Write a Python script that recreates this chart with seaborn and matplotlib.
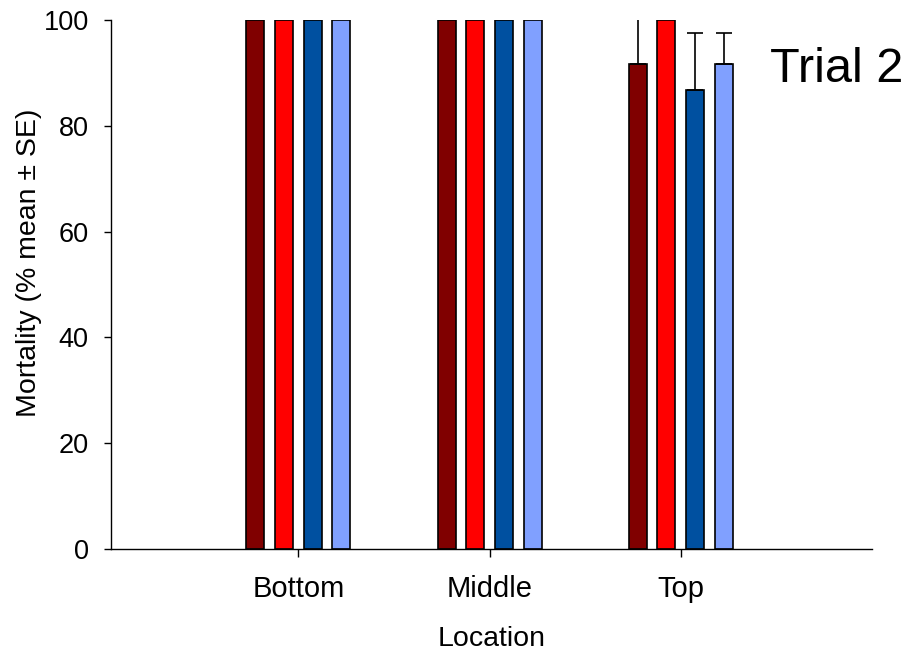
import pandas as pd
import matplotlib.pyplot as plt
import seaborn as sns
import numpy as np

# Data
locations = ["Bottom", "Middle", "Top"]
treatments = ["A", "B", "C", "D"]
mortality = {
    "A": [100, 100, 91.7],
    "B": [100, 100, 100],
    "C": [100, 100, 86.7],
    "D": [100, 100, 91.7],
}
se = {
    "A": [0, 0, 10.5],
    "B": [0, 0, 0],
    "C": [0, 0, 10.9],
    "D": [0, 0, 5.9],
}
colors = ["#800000", "#FF0000", "#0050A0", "#80A0FF"]

rows = []
for t in treatments:
    for loc, m, s in zip(locations, mortality[t], se[t]):
        rows.append({"Location": loc, "Treatment": t, "Mortality": m, "SE": s})
df = pd.DataFrame(rows)

sns.set_style("ticks")
plt.rcParams['font.family'] = ['Liberation Sans', 'DejaVu Sans']
plt.rcParams['text.color'] = 'black'

fig = plt.figure(figsize=(9.16, 6.54), dpi=100)
ax = fig.add_axes([0.1212, 0.1606, 0.8308, 0.8088])

sns.barplot(data=df, x="Location", y="Mortality", hue="Treatment",
            order=locations, hue_order=treatments, palette=colors,
            saturation=1, width=0.6, gap=0.373, edgecolor="black",
            linewidth=1.2, errorbar=None, legend=False, ax=ax)

# one-sided (upper) error bars
for t, cont in zip(treatments, ax.containers):
    xs = [p.get_x() + p.get_width() / 2 for p in cont.patches]
    for x, y, e in zip(xs, mortality[t], se[t]):
        if e > 0:
            ax.errorbar(x, y, yerr=[[0], [e]], fmt="none", ecolor="black",
                        elinewidth=1.2, capsize=6, capthick=1.2, clip_on=True)

ax.set_ylim(0, 100)
ax.set_xlim(-0.98, 3.0)
ax.set_yticks(range(0, 101, 20))
ax.tick_params(axis="both", width=1, direction="out", colors="black")
ax.tick_params(axis="y", labelsize=19.5, length=5, pad=11)
ax.tick_params(axis="x", labelsize=21, length=6, pad=13)
ax.set_xlabel("Location", fontsize=20.5, labelpad=16, color="black")
ax.set_ylabel("Mortality (% mean ± SE)", fontsize=20.5, color="black")
ax.yaxis.label.set_va("center")
ax.yaxis.set_label_coords(-0.108, 0.541)
sns.despine(ax=ax)
for sp in ["left", "bottom"]:
    ax.spines[sp].set_linewidth(1)
    ax.spines[sp].set_color("black")

fig.text(0.841, 0.8746, "Trial 2", fontsize=35, ha="left", va="baseline",
         color="black")

plt.savefig("out.png", dpi=100)
plt.close()
